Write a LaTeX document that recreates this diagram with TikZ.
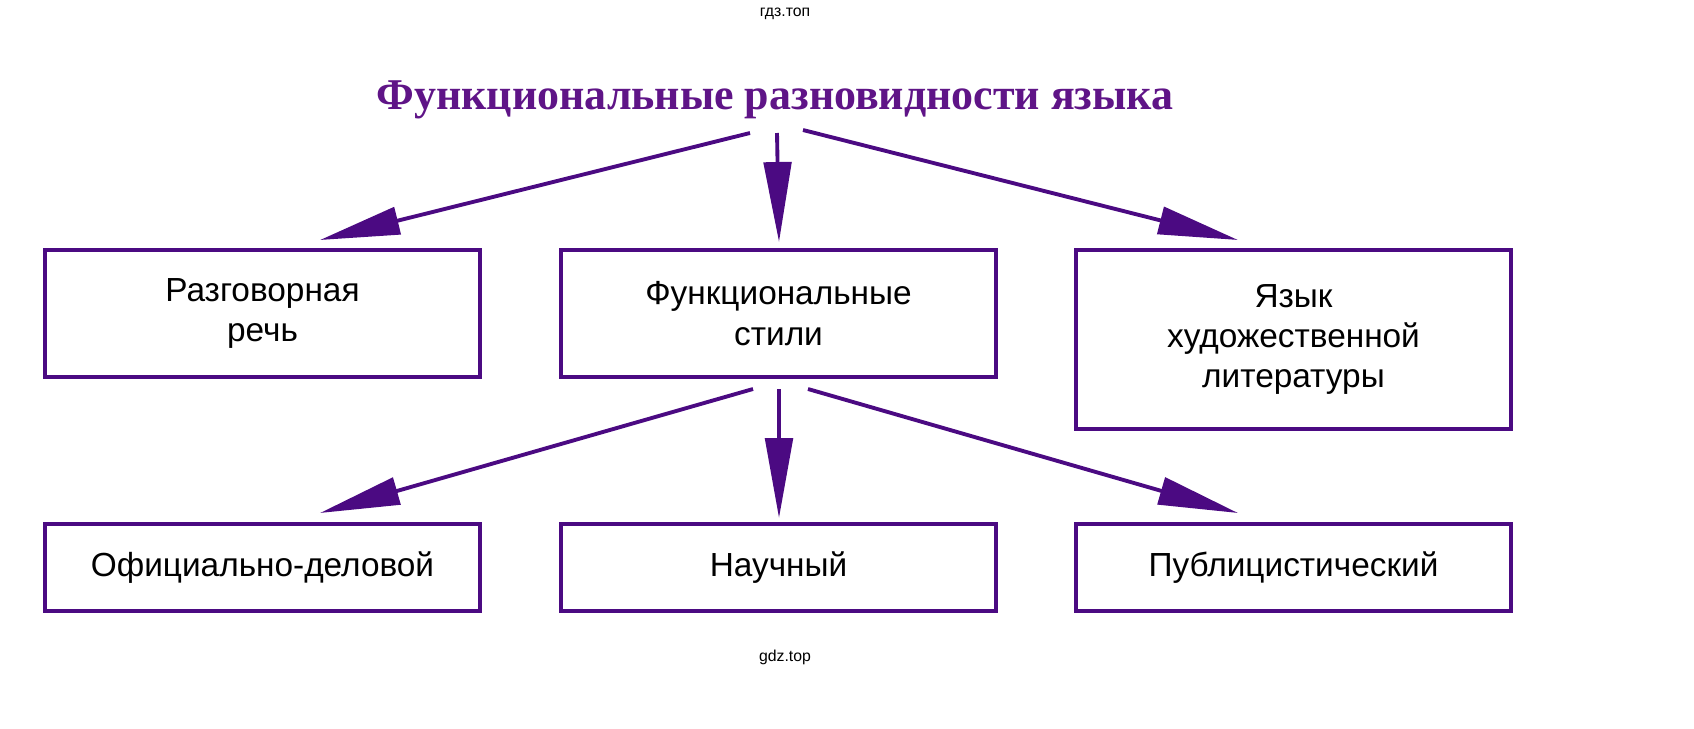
\documentclass[tikz,border=0pt]{standalone}
\usepackage{fontspec}
\setmainfont{Liberation Sans}
\newfontfamily\titlefont{Liberation Serif}
\usetikzlibrary{arrows.meta}
\definecolor{violetline}{RGB}{75, 10, 130}
\definecolor{violettitle}{RGB}{95, 20, 135}
\tikzset{
    box/.style={draw=violetline, line width=2.2pt, align=center, font=\fontsize{19}{23}\selectfont},
    link/.style={draw=violetline, line width=2.2pt, -{Triangle[length=1.6cm, width=0.55cm]}},
}
\begin{document}
\begin{tikzpicture}[x=0.02cm, y=-0.02cm]
    \node (wmtop) at (785,14) {\fontsize{9}{11}\selectfont гдз.топ};
    \node (wmbot) at (785,657) {\fontsize{9}{11}\selectfont gdz.top};
    \node[text=violettitle, font=\titlefont\bfseries\fontsize{25}{30}\selectfont] (title) at (775,100) {Функциональные разновидности языка};
    % first row
    \node[box, minimum width=8.7cm, minimum height=2.54cm] (talk) at (262.5,313.5) {Разговорная\\речь};
    \node[box, minimum width=8.7cm, minimum height=2.54cm] (styles) at (778.5,313.5) {Функциональные\\стили};
    \node[box, minimum width=8.7cm, minimum height=3.58cm] (fiction) at (1293.5,339.5) {Язык\\художественной\\литературы};
    % second row
    \node[box, minimum width=8.7cm, minimum height=1.74cm] (official) at (262.5,567.5) {Официально-деловой};
    \node[box, minimum width=8.7cm, minimum height=1.74cm] (science) at (778.5,567.5) {Научный};
    \node[box, minimum width=8.7cm, minimum height=1.74cm] (public) at (1293.5,567.5) {Публицистический};
    % arrow ends
    \coordinate (t1) at (750,133); \coordinate (e1) at (320,240);
    \coordinate (t2) at (777,133); \coordinate (e2) at (779,242);
    \coordinate (t3) at (803,130); \coordinate (e3) at (1238,240);
    \coordinate (s1) at (753,389); \coordinate (f1) at (320,513);
    \coordinate (s2) at (779,389); \coordinate (f2) at (779,518);
    \coordinate (s3) at (808,389); \coordinate (f3) at (1238,513);
    \draw[link] (t1) -- (e1);
    \draw[link] (t2) -- (e2);
    \draw[link] (t3) -- (e3);
    \draw[link] (s1) -- (f1);
    \draw[link] (s2) -- (f2);
    \draw[link] (s3) -- (f3);
    \pgfresetboundingbox
    \useasboundingbox (0,0) rectangle (1694,728);
\end{tikzpicture}
\end{document}
